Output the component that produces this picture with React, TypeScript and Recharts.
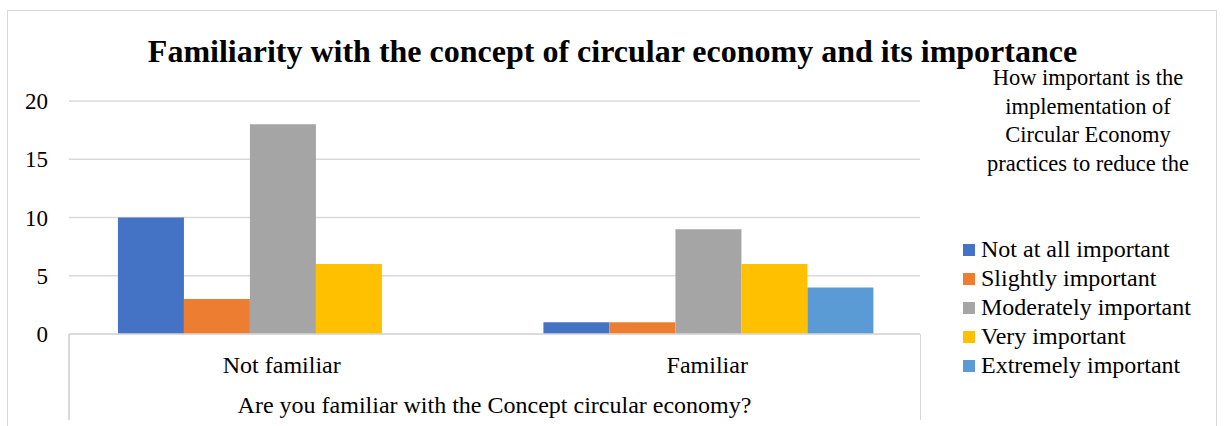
import React from 'react';
import { BarChart, Bar, XAxis, YAxis, CartesianGrid } from 'recharts';

const categories = ['Not familiar', 'Familiar'];
const notAtAllImportant = [10, 1];
const slightlyImportant = [3, 1];
const moderatelyImportant = [18, 9];
const veryImportant = [6, 6];
const extremelyImportant = [0, 4];
const yTicks = [0, 5, 10, 15, 20];

const series = [
  { key: 'notAtAll', name: 'Not at all important', color: '#4472C4', values: notAtAllImportant },
  { key: 'slightly', name: 'Slightly important', color: '#ED7D31', values: slightlyImportant },
  { key: 'moderately', name: 'Moderately important', color: '#A5A5A5', values: moderatelyImportant },
  { key: 'very', name: 'Very important', color: '#FFC000', values: veryImportant },
  { key: 'extremely', name: 'Extremely important', color: '#5B9BD5', values: extremelyImportant },
];

const data = categories.map((name, i) => {
  const row: Record<string, string | number> = { name };
  series.forEach((s) => {
    row[s.key] = s.values[i];
  });
  return row;
});

const FONT = '"Liberation Serif", "Times New Roman", serif';
const GRID = '#d9d9d9';

export default function App() {
  return (
    <div style={{ position: 'relative', width: 1225, height: 426, background: '#fff', overflow: 'hidden' }}>
      <style>{'body{margin:0}'}</style>
      {/* chart frame */}
      <div
        style={{
          position: 'absolute',
          left: 7,
          top: 10,
          width: 1208,
          height: 430,
          border: `1.5px solid ${GRID}`,
        }}
      />
      <div
        style={{
          position: 'absolute',
          top: 34,
          left: 0,
          width: 1225,
          textAlign: 'center',
          fontFamily: FONT,
          fontWeight: 'bold',
          fontSize: 32,
          lineHeight: '34px',
          color: '#000',
        }}
      >
        Familiarity with the concept of circular economy and its importance
      </div>
      <div
        style={{
          position: 'absolute',
          top: 64,
          left: 983,
          width: 210,
          textAlign: 'center',
          fontFamily: FONT,
          fontSize: 22.5,
          lineHeight: '28.7px',
          color: '#000',
        }}
      >
        How important is the implementation of Circular Economy practices to reduce the
      </div>
      {/* legend, in series order */}
      <div style={{ position: 'absolute', top: 235, left: 963, fontFamily: FONT, fontSize: 24, color: '#000' }}>
        {series.map((s) => (
          <div key={s.key} style={{ height: 29, lineHeight: '29px', display: 'flex', alignItems: 'center' }}>
            <span style={{ width: 12, height: 12, background: s.color, display: 'inline-block', marginRight: 6 }} />
            <span>{s.name}</span>
          </div>
        ))}
      </div>
      <BarChart
        width={1225}
        height={426}
        data={data}
        margin={{ top: 101, right: 305, left: 0, bottom: 0 }}
        barGap={0}
        barCategoryGap="11.5%"
        style={{ position: 'absolute', top: 0, left: 0 }}
      >
        <CartesianGrid vertical={false} stroke={GRID} strokeWidth={1.5} />
        <XAxis
          dataKey="name"
          height={92}
          axisLine={{ stroke: GRID, strokeWidth: 1.5 }}
          tickLine={false}
          tickSize={0}
          tickMargin={22}
          tick={{ fill: '#000', fontSize: 24, fontFamily: FONT }}
        />
        <YAxis
          width={69}
          domain={[0, 20]}
          ticks={yTicks}
          axisLine={false}
          tickLine={false}
          tickSize={0}
          tickMargin={21}
          tick={{ fill: '#000', fontSize: 23, fontFamily: FONT }}
        />
        {series.map((s) => (
          <Bar key={s.key} dataKey={s.key} name={s.name} fill={s.color} isAnimationActive={false} />
        ))}
      </BarChart>
      {/* category axis frame */}
      <div style={{ position: 'absolute', left: 68, top: 334, width: 1.5, height: 86, background: GRID }} />
      <div style={{ position: 'absolute', left: 919.5, top: 334, width: 1.5, height: 86, background: GRID }} />
      <div
        style={{
          position: 'absolute',
          top: 391,
          left: 69,
          width: 851,
          textAlign: 'center',
          fontFamily: FONT,
          fontSize: 24,
          lineHeight: '28px',
          color: '#000',
        }}
      >
        Are you familiar with the Concept circular economy?
      </div>
    </div>
  );
}
